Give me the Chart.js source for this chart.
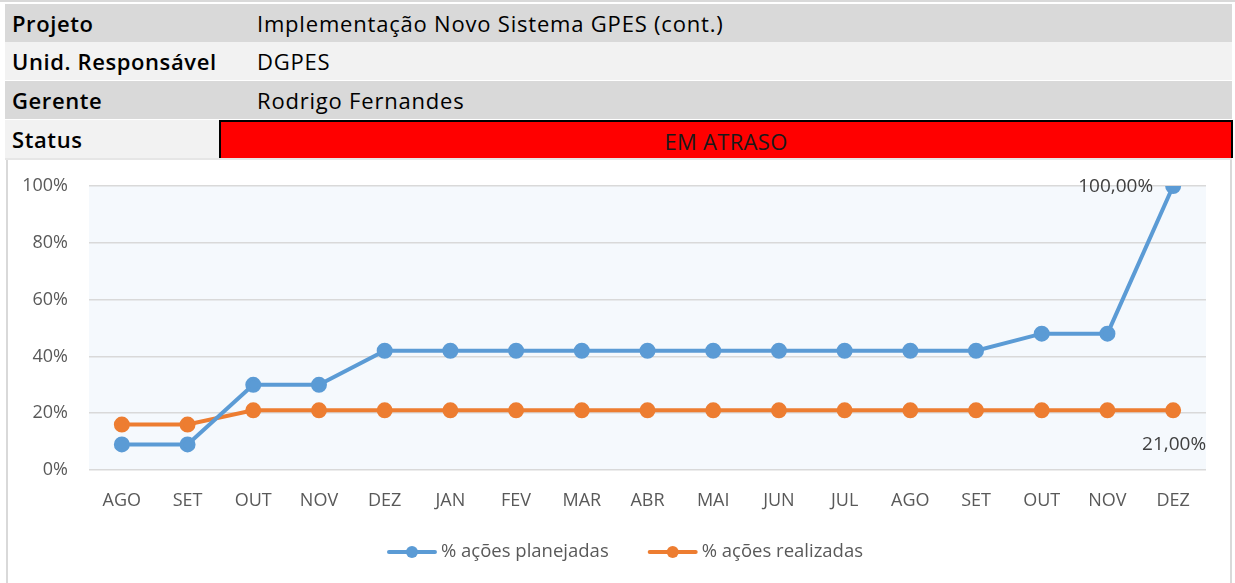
<!DOCTYPE html>
<html>
<head>
<meta charset="utf-8">
<script src="https://cdn.jsdelivr.net/npm/chart.js@4/dist/chart.umd.min.js"></script>
<style>
  body { margin: 0; background: #fff; width: 1235px; height: 583px; overflow: hidden; position: relative; font-family: "Open Sans", Lato, sans-serif; }
  .topline { position: absolute; left: 0; top: 0; width: 1235px; height: 2px; background: #d9d9d9; }
  .row { position: absolute; left: 5px; width: 1227px; height: 38px; }
  .row .lbl { position: absolute; left: 7px; top: 0; line-height: 39px; font-size: 22px; font-weight: 600; color: #000; letter-spacing: 0.6px; }
  .row .val { position: absolute; left: 252px; top: 0; line-height: 39px; font-size: 22px; color: #000; letter-spacing: 0.8px; }
  .status { position: absolute; left: 219px; top: 120px; width: 1010px; height: 36px; background: #ff0000; border: 2px solid #000; border-bottom: none; text-align: center; line-height: 39px; font-size: 22px; color: #1a1a1a; letter-spacing: 0.3px; }
  .sep { position: absolute; left: 5px; top: 158px; width: 1227px; height: 2px; background: #e6e6e6; }
  .box { position: absolute; left: 6px; top: 160px; width: 1226px; height: 423px; border-left: 2px solid #d9d9d9; border-right: 2px solid #d9d9d9; box-sizing: border-box; }
  #wrap { position: absolute; left: 8px; top: 160px; width: 1222px; height: 423px; }
</style>
</head>
<body>
<div class="topline"></div>
<div class="row" style="top:4px;background:#d9d9d9"><span class="lbl">Projeto</span><span class="val">Implementação Novo Sistema GPES (cont.)</span></div>
<div class="row" style="top:42px;background:#f2f2f2"><span class="lbl">Unid. Responsável</span><span class="val">DGPES</span></div>
<div class="row" style="top:81px;background:#d9d9d9"><span class="lbl">Gerente</span><span class="val">Rodrigo Fernandes</span></div>
<div class="row" style="top:120px;background:#f2f2f2"><span class="lbl">Status</span></div>
<div class="status">EM ATRASO</div>
<div class="sep"></div>
<div class="box"></div>
<div id="wrap"><canvas id="chart"></canvas></div>
<script>
// Evolução das ações do projeto
const months = ["AGO", "SET", "OUT", "NOV", "DEZ", "JAN", "FEV", "MAR", "ABR", "MAI", "JUN", "JUL", "AGO", "SET", "OUT", "NOV", "DEZ"];
const planejadas = [9, 9, 30, 30, 42, 42, 42, 42, 42, 42, 42, 42, 42, 42, 48, 48, 100];
const realizadas = [16, 16, 21, 21, 21, 21, 21, 21, 21, 21, 21, 21, 21, 21, 21, 21, 21];
const yTicks = [0, 20, 40, 60, 80, 100];

const BLUE = "#5b9bd5";
const ORANGE = "#ed7d31";
const TEXT = "#595959";
const FONT = "'Open Sans', Lato, sans-serif";

const plotBg = {
    id: "plotBg",
    beforeDraw(chart) {
        const { ctx, chartArea: a } = chart;
        ctx.save();
        ctx.fillStyle = "#f5f9fd";
        ctx.fillRect(a.left, a.top, a.right - a.left, a.bottom - a.top);
        ctx.restore();
    }
};

// value labels on the last point of each series
const lastLabels = {
    id: "lastLabels",
    afterDatasetsDraw(chart) {
        const ctx = chart.ctx;
        ctx.save();
        ctx.font = "19px " + FONT;
        ctx.fillStyle = "#404040";
        ctx.textBaseline = "middle";

        const m0 = chart.getDatasetMeta(0).data;
        const p0 = m0[m0.length - 1];
        ctx.textAlign = "right";
        ctx.fillText(planejadas[planejadas.length - 1].toFixed(2).replace(".", ",") + "%", p0.x - 20, p0.y + 1);

        const m1 = chart.getDatasetMeta(1).data;
        const p1 = m1[m1.length - 1];
        ctx.textAlign = "center";
        ctx.fillText(realizadas[realizadas.length - 1].toFixed(2).replace(".", ",") + "%", p1.x + 1, p1.y + 34);
        ctx.restore();
    }
};

// Excel-style legend: line with a dot, then the label
const excelLegend = {
    id: "excelLegend",
    afterDraw(chart) {
        const ctx = chart.ctx;
        const ds = chart.data.datasets;
        const iconW = 50, gapText = 4, gapItem = 39;
        ctx.save();
        ctx.font = "18.5px " + FONT;
        const widths = ds.map(d => ctx.measureText(d.label).width);
        let total = 0;
        widths.forEach((w, i) => { total += iconW + gapText + w + (i ? gapItem : 0); });
        let x = chart.width / 2 + 6 - total / 2;
        const y = 392;
        ds.forEach((d, i) => {
            ctx.strokeStyle = d.borderColor;
            ctx.fillStyle = d.borderColor;
            ctx.lineWidth = 4;
            ctx.lineCap = "round";
            ctx.beginPath();
            ctx.moveTo(x + 2, y);
            ctx.lineTo(x + iconW - 2, y);
            ctx.stroke();
            ctx.beginPath();
            ctx.arc(x + iconW / 2, y, 6, 0, Math.PI * 2);
            ctx.fill();
            x += iconW + gapText;
            ctx.fillStyle = TEXT;
            ctx.textAlign = "left";
            ctx.textBaseline = "middle";
            ctx.fillText(d.label, x, y);
            x += widths[i] + gapItem;
        });
        ctx.restore();
    }
};

Chart.defaults.font.family = FONT;
Chart.defaults.color = TEXT;

new Chart(document.getElementById("chart"), {
    type: "line",
    data: {
        labels: months,
        datasets: [{
            label: "% ações planejadas",
            data: planejadas,
            borderColor: BLUE,
            backgroundColor: BLUE,
            borderWidth: 4,
            pointRadius: 6,
            pointHoverRadius: 6,
            tension: 0
        }, {
            label: "% ações realizadas",
            data: realizadas,
            borderColor: ORANGE,
            backgroundColor: ORANGE,
            borderWidth: 4,
            pointRadius: 6,
            pointHoverRadius: 6,
            tension: 0
        }]
    },
    options: {
        responsive: true,
        maintainAspectRatio: false,
        animation: false,
        layout: { padding: { left: 0, right: 24, top: 26, bottom: 67 } },
        scales: {
            x: {
                offset: true,
                grid: { display: false, drawTicks: false },
                border: { display: false },
                ticks: { font: { size: 18 }, padding: 20, color: TEXT },
                afterFit(scale) { scale.height = 46; }
            },
            y: {
                min: 0,
                max: 100,
                afterBuildTicks(scale) { scale.ticks = yTicks.map(v => ({ value: v })); },
                grid: { color: "#d9d9d9", lineWidth: 1.5, drawTicks: true, tickLength: 17, tickColor: "rgba(0,0,0,0)" },
                border: { display: false },
                ticks: { font: { size: 18 }, padding: 4, color: TEXT, callback: v => v + "%" },
                afterFit(scale) { scale.width = 81; }
            }
        },
        plugins: {
            legend: { display: false },
            tooltip: { enabled: false }
        }
    },
    plugins: [plotBg, lastLabels, excelLegend]
});
</script>
</body>
</html>
